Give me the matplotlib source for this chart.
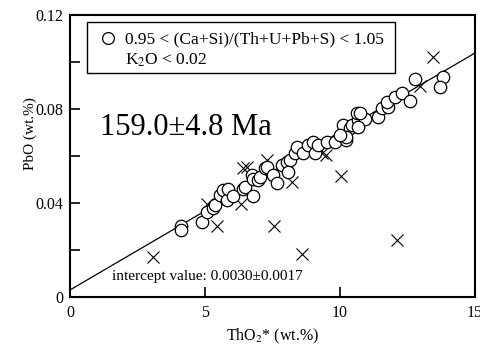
import numpy as np
import matplotlib
matplotlib.use("Agg")
import matplotlib.pyplot as plt
from matplotlib.patches import Rectangle

plt.rcParams['font.family'] = ['Liberation Serif', 'DejaVu Serif']
plt.rcParams['mathtext.fontset'] = 'stix'

# circles: 0.95 < (Ca+Si)/(Th+U+Pb+S) < 1.05, K2O < 0.02
tho2_ok = [4.11, 4.11, 4.89, 5.07, 5.30, 5.37, 5.56, 5.67, 5.81, 5.85, 6.04, 6.41,
           6.48, 6.74, 6.78, 6.78, 6.96, 7.04, 7.22, 7.30, 7.52, 7.67, 7.85, 8.04,
           8.15, 8.07, 8.33, 8.41, 8.63, 8.81, 9.00, 9.07, 9.19, 9.52, 9.81, 10.22,
           10.11, 10.37, 10.22, 10.00, 10.44, 10.67, 10.63, 10.93, 10.67, 10.74,
           11.41, 11.56, 11.78, 11.74, 12.04, 12.30, 12.59, 12.78, 13.81, 13.70]
pbo_ok = [0.0302, 0.0285, 0.0319, 0.0362, 0.0379, 0.0391, 0.0434, 0.0455, 0.0413,
          0.0460, 0.0430, 0.0460, 0.0468, 0.0519, 0.0502, 0.0430, 0.0498, 0.0511,
          0.0549, 0.0553, 0.0519, 0.0485, 0.0562, 0.0574, 0.0583, 0.0532, 0.0613,
          0.0638, 0.0613, 0.0647, 0.0660, 0.0613, 0.0647, 0.0660, 0.0660, 0.0668,
          0.0732, 0.0719, 0.0681, 0.0689, 0.0732, 0.0753, 0.0783, 0.0757, 0.0723,
          0.0783, 0.0766, 0.0804, 0.0809, 0.0830, 0.0851, 0.0868, 0.0834, 0.0928,
          0.0936, 0.0894]

# crosses: other analyses
tho2_x = [3.07, 5.07, 5.44, 6.33, 6.41, 6.56, 7.30, 7.56, 8.22, 8.59, 9.33, 9.48,
          10.04, 12.11, 12.96, 13.44]
pbo_x = [0.0170, 0.0396, 0.0302, 0.0396, 0.0549, 0.0553, 0.0583, 0.0302, 0.0489,
         0.0183, 0.0613, 0.0604, 0.0515, 0.0243, 0.0898, 0.1021]

intercept = 0.0030
slope = 0.00672

fig = plt.figure(figsize=(4.81, 3.47), dpi=100)
ax = fig.add_axes([0.1455, 0.144, 0.842, 0.813])

xs = np.array([0, 15])
ax.plot(xs, intercept + slope * xs, color='black', lw=0.9, zorder=1)
ax.scatter(tho2_x, pbo_x, marker='x', s=75, color='black', lw=0.8, zorder=2)
ax.scatter(tho2_ok, pbo_ok, marker='o', s=80, facecolor='white',
           edgecolor='black', lw=0.9, zorder=3)

ax.set_xlim(0, 15)
ax.set_ylim(0, 0.12)
ax.set_xticks([0, 5, 10, 15])
ax.set_xticklabels(['0', '5', '10', '15'])
ax.set_yticks([0, 0.04, 0.08, 0.12])
ax.set_yticklabels(['0', '0.04', '0.08', '0.12'])
ax.set_yticks([0.02, 0.06, 0.10], minor=True)
ax.tick_params(which='both', direction='in', length=7, width=1.2,
               labelsize=11.5)
ax.tick_params(axis='x', pad=6)
ax.tick_params(axis='y', pad=5)
for s in ax.spines.values():
    s.set_linewidth(1.5)

ax.set_xlabel('ThO$_2$* (wt.%)', fontsize=11.5)
ax.xaxis.set_label_coords(0.5, -0.105)
ax.set_ylabel('PbO (wt.%)', fontsize=11)
ax.yaxis.set_label_coords(-0.082, 0.58)

# legend box
ax.add_patch(Rectangle((0.042, 0.794), 0.76, 0.181, transform=ax.transAxes,
                       facecolor='white', edgecolor='black', lw=1, zorder=4))
ax.plot([0.094], [0.918], marker='o', ms=8.5, mfc='white', mec='black',
        mew=0.9, transform=ax.transAxes, zorder=5)
ax.text(0.135, 0.915, '0.95 < (Ca+Si)/(Th+U+Pb+S) < 1.05', transform=ax.transAxes,
        fontsize=12.5, va='center', ha='left', zorder=5)
ax.text(0.135, 0.84, 'K$_2$O < 0.02', transform=ax.transAxes,
        fontsize=12.5, va='center', ha='left', zorder=5)

ax.text(0.074, 0.6, '159.0\u00b14.8 Ma', transform=ax.transAxes,
        fontsize=22, va='center', ha='left')
ax.text(0.104, 0.072, 'intercept value: 0.0030\u00b10.0017', transform=ax.transAxes,
        fontsize=11, va='center', ha='left')

fig.savefig('out.png', dpi=100)
